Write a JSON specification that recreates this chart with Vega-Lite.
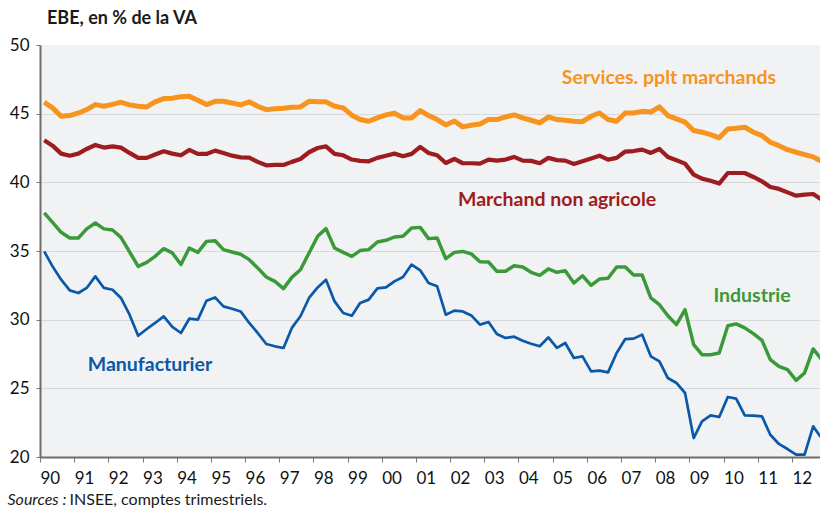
{
"$schema":"https://vega.github.io/schema/vega-lite/v6.json",
"width":780,"height":412,
"autosize":{"type":"none"},
"padding":{"left":40,"top":45,"right":0,"bottom":54},
"background":"#ffffff",
"config":{"font":"Lato","view":{"fill":"#f1f2f4","stroke":null}},
"title":{"text":"EBE, en % de la VA","orient":"top","anchor":"start","frame":"group","dx":7,"offset":8,"fontSize":18,"fontWeight":"bold","color":"#1a1a1a","font":"Lato"},
"datasets":{
"series":[
{"d":"1990-02-15","s":"Services","v":45.83},{"d":"1990-05-15","s":"Services","v":45.42},{"d":"1990-08-15","s":"Services","v":44.81},{"d":"1990-11-15","s":"Services","v":44.86},
{"d":"1991-02-15","s":"Services","v":45.05},{"d":"1991-05-15","s":"Services","v":45.29},{"d":"1991-08-15","s":"Services","v":45.66},{"d":"1991-11-15","s":"Services","v":45.54},
{"d":"1992-02-15","s":"Services","v":45.68},{"d":"1992-05-15","s":"Services","v":45.83},{"d":"1992-08-15","s":"Services","v":45.64},{"d":"1992-11-15","s":"Services","v":45.54},
{"d":"1993-02-15","s":"Services","v":45.49},{"d":"1993-05-15","s":"Services","v":45.86},{"d":"1993-08-15","s":"Services","v":46.10},{"d":"1993-11-15","s":"Services","v":46.12},
{"d":"1994-02-15","s":"Services","v":46.24},{"d":"1994-05-15","s":"Services","v":46.26},{"d":"1994-08-15","s":"Services","v":45.97},{"d":"1994-11-15","s":"Services","v":45.66},
{"d":"1995-02-15","s":"Services","v":45.90},{"d":"1995-05-15","s":"Services","v":45.90},{"d":"1995-08-15","s":"Services","v":45.78},{"d":"1995-11-15","s":"Services","v":45.64},
{"d":"1996-02-15","s":"Services","v":45.86},{"d":"1996-05-15","s":"Services","v":45.54},{"d":"1996-08-15","s":"Services","v":45.29},{"d":"1996-11-15","s":"Services","v":45.35},
{"d":"1997-02-15","s":"Services","v":45.39},{"d":"1997-05-15","s":"Services","v":45.46},{"d":"1997-08-15","s":"Services","v":45.49},{"d":"1997-11-15","s":"Services","v":45.90},
{"d":"1998-02-15","s":"Services","v":45.86},{"d":"1998-05-15","s":"Services","v":45.86},{"d":"1998-08-15","s":"Services","v":45.54},{"d":"1998-11-15","s":"Services","v":45.42},
{"d":"1999-02-15","s":"Services","v":44.89},{"d":"1999-05-15","s":"Services","v":44.57},{"d":"1999-08-15","s":"Services","v":44.45},{"d":"1999-11-15","s":"Services","v":44.69},
{"d":"2000-02-15","s":"Services","v":44.91},{"d":"2000-05-15","s":"Services","v":45.03},{"d":"2000-08-15","s":"Services","v":44.69},{"d":"2000-11-15","s":"Services","v":44.69},
{"d":"2001-02-15","s":"Services","v":45.22},{"d":"2001-05-15","s":"Services","v":44.86},{"d":"2001-08-15","s":"Services","v":44.57},{"d":"2001-11-15","s":"Services","v":44.18},
{"d":"2002-02-15","s":"Services","v":44.47},{"d":"2002-05-15","s":"Services","v":44.04},{"d":"2002-08-15","s":"Services","v":44.16},{"d":"2002-11-15","s":"Services","v":44.25},
{"d":"2003-02-15","s":"Services","v":44.57},{"d":"2003-05-15","s":"Services","v":44.57},{"d":"2003-08-15","s":"Services","v":44.76},{"d":"2003-11-15","s":"Services","v":44.91},
{"d":"2004-02-15","s":"Services","v":44.69},{"d":"2004-05-15","s":"Services","v":44.52},{"d":"2004-08-15","s":"Services","v":44.33},{"d":"2004-11-15","s":"Services","v":44.76},
{"d":"2005-02-15","s":"Services","v":44.57},{"d":"2005-05-15","s":"Services","v":44.52},{"d":"2005-08-15","s":"Services","v":44.45},{"d":"2005-11-15","s":"Services","v":44.42},
{"d":"2006-02-15","s":"Services","v":44.81},{"d":"2006-05-15","s":"Services","v":45.05},{"d":"2006-08-15","s":"Services","v":44.57},{"d":"2006-11-15","s":"Services","v":44.45},
{"d":"2007-02-15","s":"Services","v":45.05},{"d":"2007-05-15","s":"Services","v":45.05},{"d":"2007-08-15","s":"Services","v":45.17},{"d":"2007-11-15","s":"Services","v":45.12},
{"d":"2008-02-15","s":"Services","v":45.49},{"d":"2008-05-15","s":"Services","v":44.86},{"d":"2008-08-15","s":"Services","v":44.62},{"d":"2008-11-15","s":"Services","v":44.38},
{"d":"2009-02-15","s":"Services","v":43.77},{"d":"2009-05-15","s":"Services","v":43.65},{"d":"2009-08-15","s":"Services","v":43.48},{"d":"2009-11-15","s":"Services","v":43.24},
{"d":"2010-02-15","s":"Services","v":43.89},{"d":"2010-05-15","s":"Services","v":43.94},{"d":"2010-08-15","s":"Services","v":44.01},{"d":"2010-11-15","s":"Services","v":43.65},
{"d":"2011-02-15","s":"Services","v":43.40},{"d":"2011-05-15","s":"Services","v":42.92},{"d":"2011-08-15","s":"Services","v":42.67},{"d":"2011-11-15","s":"Services","v":42.38},
{"d":"2012-02-15","s":"Services","v":42.19},{"d":"2012-05-15","s":"Services","v":42.02},{"d":"2012-08-15","s":"Services","v":41.85},{"d":"2012-11-15","s":"Services","v":41.53},
{"d":"1990-02-15","s":"Marchand","v":43.06},{"d":"1990-05-15","s":"Marchand","v":42.67},{"d":"1990-08-15","s":"Marchand","v":42.09},{"d":"1990-11-15","s":"Marchand","v":41.94},
{"d":"1991-02-15","s":"Marchand","v":42.09},{"d":"1991-05-15","s":"Marchand","v":42.43},{"d":"1991-08-15","s":"Marchand","v":42.72},{"d":"1991-11-15","s":"Marchand","v":42.53},
{"d":"1992-02-15","s":"Marchand","v":42.62},{"d":"1992-05-15","s":"Marchand","v":42.53},{"d":"1992-08-15","s":"Marchand","v":42.14},{"d":"1992-11-15","s":"Marchand","v":41.78},
{"d":"1993-02-15","s":"Marchand","v":41.78},{"d":"1993-05-15","s":"Marchand","v":42.02},{"d":"1993-08-15","s":"Marchand","v":42.26},{"d":"1993-11-15","s":"Marchand","v":42.09},
{"d":"1994-02-15","s":"Marchand","v":41.97},{"d":"1994-05-15","s":"Marchand","v":42.36},{"d":"1994-08-15","s":"Marchand","v":42.07},{"d":"1994-11-15","s":"Marchand","v":42.07},
{"d":"1995-02-15","s":"Marchand","v":42.31},{"d":"1995-05-15","s":"Marchand","v":42.14},{"d":"1995-08-15","s":"Marchand","v":41.94},{"d":"1995-11-15","s":"Marchand","v":41.82},
{"d":"1996-02-15","s":"Marchand","v":41.80},{"d":"1996-05-15","s":"Marchand","v":41.49},{"d":"1996-08-15","s":"Marchand","v":41.24},{"d":"1996-11-15","s":"Marchand","v":41.27},
{"d":"1997-02-15","s":"Marchand","v":41.27},{"d":"1997-05-15","s":"Marchand","v":41.49},{"d":"1997-08-15","s":"Marchand","v":41.70},{"d":"1997-11-15","s":"Marchand","v":42.19},
{"d":"1998-02-15","s":"Marchand","v":42.50},{"d":"1998-05-15","s":"Marchand","v":42.62},{"d":"1998-08-15","s":"Marchand","v":42.07},{"d":"1998-11-15","s":"Marchand","v":41.97},
{"d":"1999-02-15","s":"Marchand","v":41.66},{"d":"1999-05-15","s":"Marchand","v":41.56},{"d":"1999-08-15","s":"Marchand","v":41.53},{"d":"1999-11-15","s":"Marchand","v":41.78},
{"d":"2000-02-15","s":"Marchand","v":41.94},{"d":"2000-05-15","s":"Marchand","v":42.09},{"d":"2000-08-15","s":"Marchand","v":41.90},{"d":"2000-11-15","s":"Marchand","v":42.07},
{"d":"2001-02-15","s":"Marchand","v":42.58},{"d":"2001-05-15","s":"Marchand","v":42.14},{"d":"2001-08-15","s":"Marchand","v":41.97},{"d":"2001-11-15","s":"Marchand","v":41.41},
{"d":"2002-02-15","s":"Marchand","v":41.70},{"d":"2002-05-15","s":"Marchand","v":41.39},{"d":"2002-08-15","s":"Marchand","v":41.39},{"d":"2002-11-15","s":"Marchand","v":41.36},
{"d":"2003-02-15","s":"Marchand","v":41.66},{"d":"2003-05-15","s":"Marchand","v":41.58},{"d":"2003-08-15","s":"Marchand","v":41.66},{"d":"2003-11-15","s":"Marchand","v":41.85},
{"d":"2004-02-15","s":"Marchand","v":41.58},{"d":"2004-05-15","s":"Marchand","v":41.56},{"d":"2004-08-15","s":"Marchand","v":41.39},{"d":"2004-11-15","s":"Marchand","v":41.78},
{"d":"2005-02-15","s":"Marchand","v":41.62},{"d":"2005-05-15","s":"Marchand","v":41.58},{"d":"2005-08-15","s":"Marchand","v":41.34},{"d":"2005-11-15","s":"Marchand","v":41.53},
{"d":"2006-02-15","s":"Marchand","v":41.73},{"d":"2006-05-15","s":"Marchand","v":41.94},{"d":"2006-08-15","s":"Marchand","v":41.65},{"d":"2006-11-15","s":"Marchand","v":41.78},
{"d":"2007-02-15","s":"Marchand","v":42.24},{"d":"2007-05-15","s":"Marchand","v":42.28},{"d":"2007-08-15","s":"Marchand","v":42.38},{"d":"2007-11-15","s":"Marchand","v":42.14},
{"d":"2008-02-15","s":"Marchand","v":42.43},{"d":"2008-05-15","s":"Marchand","v":41.85},{"d":"2008-08-15","s":"Marchand","v":41.61},{"d":"2008-11-15","s":"Marchand","v":41.36},
{"d":"2009-02-15","s":"Marchand","v":40.56},{"d":"2009-05-15","s":"Marchand","v":40.27},{"d":"2009-08-15","s":"Marchand","v":40.12},{"d":"2009-11-15","s":"Marchand","v":39.91},
{"d":"2010-02-15","s":"Marchand","v":40.68},{"d":"2010-05-15","s":"Marchand","v":40.68},{"d":"2010-08-15","s":"Marchand","v":40.68},{"d":"2010-11-15","s":"Marchand","v":40.39},
{"d":"2011-02-15","s":"Marchand","v":40.07},{"d":"2011-05-15","s":"Marchand","v":39.66},{"d":"2011-08-15","s":"Marchand","v":39.52},{"d":"2011-11-15","s":"Marchand","v":39.27},
{"d":"2012-02-15","s":"Marchand","v":39.03},{"d":"2012-05-15","s":"Marchand","v":39.10},{"d":"2012-08-15","s":"Marchand","v":39.15},{"d":"2012-11-15","s":"Marchand","v":38.74},
{"d":"1990-02-15","s":"Industrie","v":37.77},{"d":"1990-05-15","s":"Industrie","v":37.09},{"d":"1990-08-15","s":"Industrie","v":36.36},{"d":"1990-11-15","s":"Industrie","v":35.95},
{"d":"1991-02-15","s":"Industrie","v":35.95},{"d":"1991-05-15","s":"Industrie","v":36.61},{"d":"1991-08-15","s":"Industrie","v":37.04},{"d":"1991-11-15","s":"Industrie","v":36.61},
{"d":"1992-02-15","s":"Industrie","v":36.53},{"d":"1992-05-15","s":"Industrie","v":35.99},{"d":"1992-08-15","s":"Industrie","v":34.93},{"d":"1992-11-15","s":"Industrie","v":33.88},
{"d":"1993-02-15","s":"Industrie","v":34.17},{"d":"1993-05-15","s":"Industrie","v":34.61},{"d":"1993-08-15","s":"Industrie","v":35.17},{"d":"1993-11-15","s":"Industrie","v":34.86},
{"d":"1994-02-15","s":"Industrie","v":34.01},{"d":"1994-05-15","s":"Industrie","v":35.22},{"d":"1994-08-15","s":"Industrie","v":34.90},{"d":"1994-11-15","s":"Industrie","v":35.70},
{"d":"1995-02-15","s":"Industrie","v":35.75},{"d":"1995-05-15","s":"Industrie","v":35.10},{"d":"1995-08-15","s":"Industrie","v":34.93},{"d":"1995-11-15","s":"Industrie","v":34.76},
{"d":"1996-02-15","s":"Industrie","v":34.37},{"d":"1996-05-15","s":"Industrie","v":33.77},{"d":"1996-08-15","s":"Industrie","v":33.11},{"d":"1996-11-15","s":"Industrie","v":32.79},
{"d":"1997-02-15","s":"Industrie","v":32.26},{"d":"1997-05-15","s":"Industrie","v":33.08},{"d":"1997-08-15","s":"Industrie","v":33.64},{"d":"1997-11-15","s":"Industrie","v":34.86},
{"d":"1998-02-15","s":"Industrie","v":36.07},{"d":"1998-05-15","s":"Industrie","v":36.63},{"d":"1998-08-15","s":"Industrie","v":35.22},{"d":"1998-11-15","s":"Industrie","v":34.90},
{"d":"1999-02-15","s":"Industrie","v":34.61},{"d":"1999-05-15","s":"Industrie","v":35.03},{"d":"1999-08-15","s":"Industrie","v":35.10},{"d":"1999-11-15","s":"Industrie","v":35.66},
{"d":"2000-02-15","s":"Industrie","v":35.78},{"d":"2000-05-15","s":"Industrie","v":36.02},{"d":"2000-08-15","s":"Industrie","v":36.07},{"d":"2000-11-15","s":"Industrie","v":36.68},
{"d":"2001-02-15","s":"Industrie","v":36.72},{"d":"2001-05-15","s":"Industrie","v":35.90},{"d":"2001-08-15","s":"Industrie","v":35.95},{"d":"2001-11-15","s":"Industrie","v":34.44},
{"d":"2002-02-15","s":"Industrie","v":34.90},{"d":"2002-05-15","s":"Industrie","v":34.97},{"d":"2002-08-15","s":"Industrie","v":34.79},{"d":"2002-11-15","s":"Industrie","v":34.22},
{"d":"2003-02-15","s":"Industrie","v":34.20},{"d":"2003-05-15","s":"Industrie","v":33.52},{"d":"2003-08-15","s":"Industrie","v":33.52},{"d":"2003-11-15","s":"Industrie","v":33.93},
{"d":"2004-02-15","s":"Industrie","v":33.84},{"d":"2004-05-15","s":"Industrie","v":33.45},{"d":"2004-08-15","s":"Industrie","v":33.23},{"d":"2004-11-15","s":"Industrie","v":33.69},
{"d":"2005-02-15","s":"Industrie","v":33.45},{"d":"2005-05-15","s":"Industrie","v":33.57},{"d":"2005-08-15","s":"Industrie","v":32.67},{"d":"2005-11-15","s":"Industrie","v":33.20},
{"d":"2006-02-15","s":"Industrie","v":32.50},{"d":"2006-05-15","s":"Industrie","v":32.96},{"d":"2006-08-15","s":"Industrie","v":33.01},{"d":"2006-11-15","s":"Industrie","v":33.84},
{"d":"2007-02-15","s":"Industrie","v":33.84},{"d":"2007-05-15","s":"Industrie","v":33.25},{"d":"2007-08-15","s":"Industrie","v":33.25},{"d":"2007-11-15","s":"Industrie","v":31.58},
{"d":"2008-02-15","s":"Industrie","v":31.09},{"d":"2008-05-15","s":"Industrie","v":30.29},{"d":"2008-08-15","s":"Industrie","v":29.64},{"d":"2008-11-15","s":"Industrie","v":30.73},
{"d":"2009-02-15","s":"Industrie","v":28.18},{"d":"2009-05-15","s":"Industrie","v":27.45},{"d":"2009-08-15","s":"Industrie","v":27.45},{"d":"2009-11-15","s":"Industrie","v":27.57},
{"d":"2010-02-15","s":"Industrie","v":29.56},{"d":"2010-05-15","s":"Industrie","v":29.69},{"d":"2010-08-15","s":"Industrie","v":29.40},{"d":"2010-11-15","s":"Industrie","v":28.98},
{"d":"2011-02-15","s":"Industrie","v":28.49},{"d":"2011-05-15","s":"Industrie","v":27.09},{"d":"2011-08-15","s":"Industrie","v":26.60},{"d":"2011-11-15","s":"Industrie","v":26.36},
{"d":"2012-02-15","s":"Industrie","v":25.58},{"d":"2012-05-15","s":"Industrie","v":26.12},{"d":"2012-08-15","s":"Industrie","v":27.87},{"d":"2012-11-15","s":"Industrie","v":27.09},
{"d":"1990-02-15","s":"Manufacturier","v":34.97},{"d":"1990-05-15","s":"Manufacturier","v":33.88},{"d":"1990-08-15","s":"Manufacturier","v":32.91},{"d":"1990-11-15","s":"Manufacturier","v":32.13},
{"d":"1991-02-15","s":"Manufacturier","v":31.94},{"d":"1991-05-15","s":"Manufacturier","v":32.31},{"d":"1991-08-15","s":"Manufacturier","v":33.15},{"d":"1991-11-15","s":"Manufacturier","v":32.31},
{"d":"1992-02-15","s":"Manufacturier","v":32.18},{"d":"1992-05-15","s":"Manufacturier","v":31.58},{"d":"1992-08-15","s":"Manufacturier","v":30.36},{"d":"1992-11-15","s":"Manufacturier","v":28.83},
{"d":"1993-02-15","s":"Manufacturier","v":29.32},{"d":"1993-05-15","s":"Manufacturier","v":29.76},{"d":"1993-08-15","s":"Manufacturier","v":30.24},{"d":"1993-11-15","s":"Manufacturier","v":29.47},
{"d":"1994-02-15","s":"Manufacturier","v":29.03},{"d":"1994-05-15","s":"Manufacturier","v":30.07},{"d":"1994-08-15","s":"Manufacturier","v":30.00},{"d":"1994-11-15","s":"Manufacturier","v":31.38},
{"d":"1995-02-15","s":"Manufacturier","v":31.62},{"d":"1995-05-15","s":"Manufacturier","v":30.97},{"d":"1995-08-15","s":"Manufacturier","v":30.80},{"d":"1995-11-15","s":"Manufacturier","v":30.60},
{"d":"1996-02-15","s":"Manufacturier","v":29.76},{"d":"1996-05-15","s":"Manufacturier","v":29.03},{"d":"1996-08-15","s":"Manufacturier","v":28.23},{"d":"1996-11-15","s":"Manufacturier","v":28.06},
{"d":"1997-02-15","s":"Manufacturier","v":27.94},{"d":"1997-05-15","s":"Manufacturier","v":29.40},{"d":"1997-08-15","s":"Manufacturier","v":30.25},{"d":"1997-11-15","s":"Manufacturier","v":31.58},
{"d":"1998-02-15","s":"Manufacturier","v":32.35},{"d":"1998-05-15","s":"Manufacturier","v":32.91},{"d":"1998-08-15","s":"Manufacturier","v":31.33},{"d":"1998-11-15","s":"Manufacturier","v":30.49},
{"d":"1999-02-15","s":"Manufacturier","v":30.29},{"d":"1999-05-15","s":"Manufacturier","v":31.22},{"d":"1999-08-15","s":"Manufacturier","v":31.46},{"d":"1999-11-15","s":"Manufacturier","v":32.28},
{"d":"2000-02-15","s":"Manufacturier","v":32.35},{"d":"2000-05-15","s":"Manufacturier","v":32.79},{"d":"2000-08-15","s":"Manufacturier","v":33.11},{"d":"2000-11-15","s":"Manufacturier","v":34.01},
{"d":"2001-02-15","s":"Manufacturier","v":33.59},{"d":"2001-05-15","s":"Manufacturier","v":32.67},{"d":"2001-08-15","s":"Manufacturier","v":32.43},{"d":"2001-11-15","s":"Manufacturier","v":30.36},
{"d":"2002-02-15","s":"Manufacturier","v":30.66},{"d":"2002-05-15","s":"Manufacturier","v":30.60},{"d":"2002-08-15","s":"Manufacturier","v":30.31},{"d":"2002-11-15","s":"Manufacturier","v":29.64},
{"d":"2003-02-15","s":"Manufacturier","v":29.83},{"d":"2003-05-15","s":"Manufacturier","v":28.96},{"d":"2003-08-15","s":"Manufacturier","v":28.67},{"d":"2003-11-15","s":"Manufacturier","v":28.76},
{"d":"2004-02-15","s":"Manufacturier","v":28.47},{"d":"2004-05-15","s":"Manufacturier","v":28.25},{"d":"2004-08-15","s":"Manufacturier","v":28.06},{"d":"2004-11-15","s":"Manufacturier","v":28.71},
{"d":"2005-02-15","s":"Manufacturier","v":27.94},{"d":"2005-05-15","s":"Manufacturier","v":28.30},{"d":"2005-08-15","s":"Manufacturier","v":27.21},{"d":"2005-11-15","s":"Manufacturier","v":27.33},
{"d":"2006-02-15","s":"Manufacturier","v":26.23},{"d":"2006-05-15","s":"Manufacturier","v":26.29},{"d":"2006-08-15","s":"Manufacturier","v":26.16},{"d":"2006-11-15","s":"Manufacturier","v":27.57},
{"d":"2007-02-15","s":"Manufacturier","v":28.59},{"d":"2007-05-15","s":"Manufacturier","v":28.62},{"d":"2007-08-15","s":"Manufacturier","v":28.91},{"d":"2007-11-15","s":"Manufacturier","v":27.33},
{"d":"2008-02-15","s":"Manufacturier","v":26.96},{"d":"2008-05-15","s":"Manufacturier","v":25.75},{"d":"2008-08-15","s":"Manufacturier","v":25.39},{"d":"2008-11-15","s":"Manufacturier","v":24.66},
{"d":"2009-02-15","s":"Manufacturier","v":21.38},{"d":"2009-05-15","s":"Manufacturier","v":22.59},{"d":"2009-08-15","s":"Manufacturier","v":23.03},{"d":"2009-11-15","s":"Manufacturier","v":22.91},
{"d":"2010-02-15","s":"Manufacturier","v":24.37},{"d":"2010-05-15","s":"Manufacturier","v":24.25},{"d":"2010-08-15","s":"Manufacturier","v":23.03},{"d":"2010-11-15","s":"Manufacturier","v":23.01},
{"d":"2011-02-15","s":"Manufacturier","v":22.96},{"d":"2011-05-15","s":"Manufacturier","v":21.62},{"d":"2011-08-15","s":"Manufacturier","v":20.95},{"d":"2011-11-15","s":"Manufacturier","v":20.58},
{"d":"2012-02-15","s":"Manufacturier","v":20.17},{"d":"2012-05-15","s":"Manufacturier","v":20.17},{"d":"2012-08-15","s":"Manufacturier","v":22.23},{"d":"2012-11-15","s":"Manufacturier","v":21.35}
],
"labels":[
{"d":"2008-05-27","v":47.6,"label":"Services. pplt marchands","s":"Services"},
{"d":"2005-02-17","v":38.71,"label":"Marchand non agricole","s":"Marchand"},
{"d":"2010-10-31","v":31.72,"label":"Industrie","s":"Industrie"},
{"d":"1993-03-21","v":26.7,"label":"Manufacturier","s":"Manufacturier"}
]
},
"layer":[
{"data":{"name":"series"},
 "mark":{"type":"line","clip":true,"strokeJoin":"round"},
 "encoding":{
  "x":{"field":"d","type":"temporal","scale":{"domain":[{"year":1990,"month":1,"date":1},{"year":2012,"month":10,"date":27}]},
   "axis":{"title":"INSEE, comptes trimestriels.","format":"%y","tickCount":{"interval":"year","step":1},"labelAlign":"left","labelBaseline":"top","labelFontSize":17,"labelColor":"#111111","labelPadding":8,"labelOverlap":false,"labelFlush":false,"labelBound":false,"tickSize":5,"tickColor":"#777777","domainColor":"#6d6d6d","domainWidth":2,"grid":false,
    "titleX":29,"titleY":47,"titleAlign":"left","titleAnchor":"start","titleBaseline":"alphabetic","titleFontSize":16,"titleFontWeight":"normal","titleColor":"#1a1a1a"}},
  "y":{"field":"v","type":"quantitative","scale":{"domain":[20,50],"nice":false,"zero":false},
   "axis":{"title":"Sources :","values":[20,25,30,35,40,45,50],"grid":true,"gridColor":"#d8d9dc","gridWidth":1,
    "gridOpacity":{"condition":{"test":"datum.value == 50","value":0},"value":1},
    "labelFontSize":17,"labelColor":"#111111","labelPadding":7,"tickSize":4,"tickColor":"#777777","domainColor":"#6d6d6d","domainWidth":2,
    "titleAngle":0,"titleX":-33,"titleY":459,"titleAlign":"left","titleBaseline":"alphabetic","titleFontStyle":"italic","titleFontWeight":"normal","titleFontSize":16,"titleColor":"#1a1a1a"}},
  "color":{"field":"s","type":"nominal","scale":{"domain":["Services","Marchand","Industrie","Manufacturier"],"range":["#f7941d","#9d1c20","#3a9a3a","#0a58a8"]},"legend":null},
  "strokeWidth":{"field":"s","type":"ordinal","scale":{"domain":["Services","Marchand","Industrie","Manufacturier"],"range":[5,2.7,3.8,4.3]},"legend":null}
 }},
{"data":{"name":"labels"},
 "mark":{"type":"text","fontWeight":"bold","fontSize":19.5,"align":"center","baseline":"middle"},
 "encoding":{
  "x":{"field":"d","type":"temporal"},
  "y":{"field":"v","type":"quantitative"},
  "text":{"field":"label","type":"nominal"},
  "color":{"field":"s","type":"nominal","legend":null}
 }}
]
}
